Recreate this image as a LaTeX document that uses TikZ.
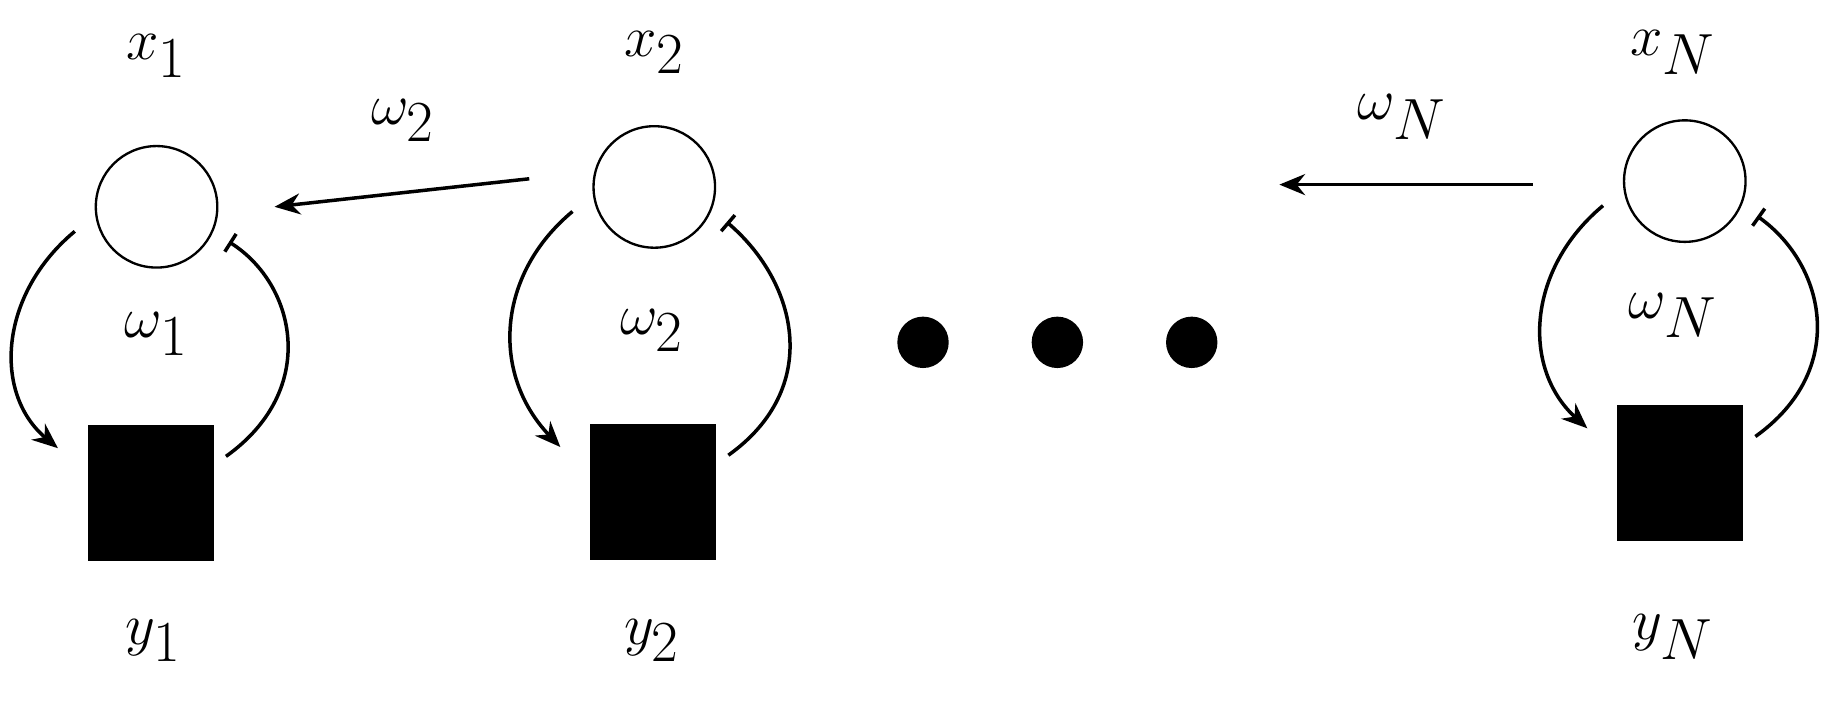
\documentclass[tikz,border=0pt]{standalone}
\usetikzlibrary{calc,arrows.meta}
\begin{document}
\begin{tikzpicture}[x=0.5pt,y=-0.5pt,
  lab/.style={font=\fontsize{50}{60}\selectfont, inner sep=0},
  circ/.style={draw, line width=1pt, ellipse, minimum width=54pt, minimum height=51pt, inner sep=0, fill=white},
  sq/.style={fill=black, minimum width=54pt, minimum height=58pt, inner sep=0},
  dot/.style={circle, fill=black, minimum size=22pt, inner sep=0},
  ln/.style={line width=1.5pt},
  arr/.style={ln, -{Stealth[length=11pt,width=9pt]}},
  bar/.style={ln, -{Bar[width=9pt]}}]
\useasboundingbox (0,0) rectangle (1568,601);
\tikzset{ellipse/.style={circle}}
% column 1
\node[circ, minimum size=52pt] (c1) at (134,177) {};
\node[sq] (s1) at (129,422) {};
\node[lab] (x1) at (134,48) {$x_1$};
\node[lab] (w1) at (134,286) {$\omega_1$};
\node[lab] (y1) at (131,548) {$y_1$};
% column 2
\node[circ, minimum size=52pt] (c2) at (560,160) {};
\node[sq] (s2) at (559,421) {};
\node[lab] (x2) at (560,45) {$x_2$};
\node[lab] (w2) at (558,283) {$\omega_2$};
\node[lab] (y2) at (558,548) {$y_2$};
% column N
\node[circ, minimum size=52pt] (cN) at (1442,155) {};
\node[sq] (sN) at (1438,405) {};
\node[lab] (xN) at (1432,45) {$x_N$};
\node[lab] (wN) at (1432,270) {$\omega_N$};
\node[lab] (yN) at (1432,545) {$y_N$};
% dots
\node[dot] (d1) at (790,293) {};
\node[dot] (d2) at (905,293) {};
\node[dot] (d3) at (1020,293) {};
% top arrows
\coordinate (a2s) at (453,153);
\coordinate (aNs) at (1312,158);
\draw[arr] (a2s) -- (c1.east -| 235,0) coordinate (a2e);
\draw[arr] (aNs) -- (1095,158) coordinate (aNe);
\node[lab] (tw2) at (345,103) {$\omega_2$};
\node[lab] (twN) at (1200,100) {$\omega_N$};
% loops
\foreach \c/\s in {c1/s1, c2/s2, cN/sN}{
  \draw[arr] ($(\c)+(-70,21)$) .. controls ($(\c)+(-135,75)$) and ($(\c)+(-140,160)$) .. ($(\s.north west)+(-25,20)$);
  \draw[bar] ($(\s.north east)+(10,27)$) .. controls ($(\s.north east)+(90,-30)$) and ($(\s.north east)+(70,-120)$) .. ($(\c)+(62,30)$);
}
\end{tikzpicture}
\end{document}
